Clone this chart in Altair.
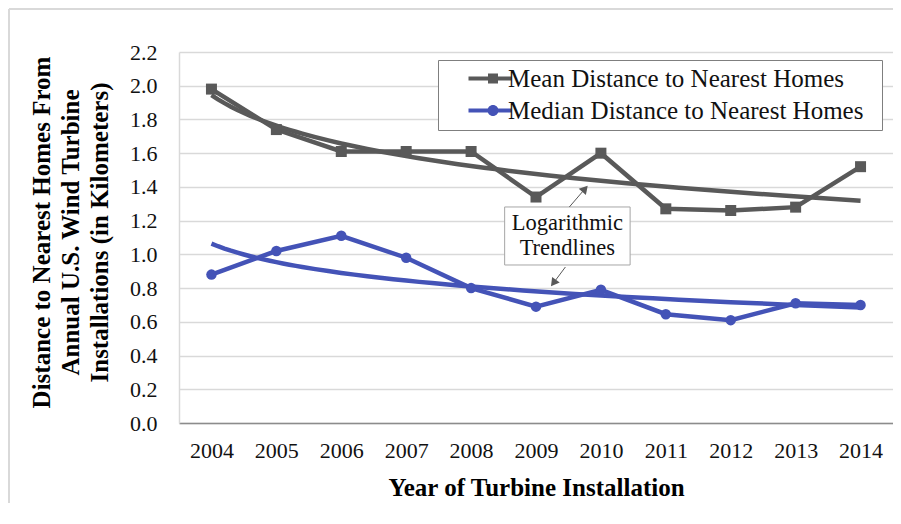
import altair as alt
import pandas as pd

years = [2004, 2005, 2006, 2007, 2008, 2009, 2010, 2011, 2012, 2013, 2014]
mean_km = [1.98, 1.74, 1.61, 1.61, 1.61, 1.34, 1.60, 1.27, 1.26, 1.28, 1.52]
median_km = [0.88, 1.02, 1.11, 0.98, 0.80, 0.69, 0.79, 0.645, 0.61, 0.71, 0.70]
series_names = ["Mean Distance to Nearest Homes", "Median Distance to Nearest Homes"]
y_ticks = [0.0, 0.2, 0.4, 0.6, 0.8, 1.0, 1.2, 1.4, 1.6, 1.8, 2.0, 2.2]
y_title = ["Distance to Nearest Homes From", "Annual U.S. Wind Turbine", "Installations (in Kilometers)"]
x_title = "Year of Turbine Installation"
note_lines = ["Logarithmic", "Trendlines"]

GRAY = "#595959"
BLUE = "#4453b7"
FONT = "Times New Roman, Liberation Serif, serif"

rows = []
for i, yr in enumerate(years):
    rows.append({"series": series_names[0], "idx": yr - 2003, "val": mean_km[i]})
    rows.append({"series": series_names[1], "idx": yr - 2003, "val": median_km[i]})
df = pd.DataFrame(rows)

W, H = 714, 371

xs = alt.Scale(domain=[0.5, 11.5], nice=False, zero=False)
ys = alt.Scale(domain=[0, 2.2], nice=False, zero=True)

x_axis = alt.Axis(values=list(range(1, 12)), labelExpr="'' + (datum.value + 2003)",
                  title=x_title, grid=False, ticks=False, labelPadding=17,
                  domainColor="#8c8c8c", domainWidth=1.5, titlePadding=14,
                  labelOverlap=False)
y_axis = alt.Axis(values=y_ticks, format=".1f", title=y_title, grid=True,
                  gridColor="#d9d9d9", gridWidth=1.5, ticks=False, labelPadding=22,
                  domainColor="#d9d9d9", domainWidth=1.5, titleLineHeight=29,
                  titlePadding=17, labelOverlap=False, tickCount=12, titleY=180)

base = alt.Chart(df)


def series_layers(name, color, point_mark):
    b = base.transform_filter(alt.datum.series == name)
    trend = b.transform_regression("idx", "val", method="log").mark_line(
        strokeWidth=4.5, color=color).encode(
        x=alt.X("idx:Q", scale=xs, axis=x_axis),
        y=alt.Y("val:Q", scale=ys, axis=y_axis))
    line = b.mark_line(strokeWidth=4.5, color=color).encode(
        x=alt.X("idx:Q", scale=xs, axis=x_axis), y=alt.Y("val:Q", scale=ys, axis=y_axis))
    pts = point_mark(b).encode(x=alt.X("idx:Q", scale=xs, axis=x_axis),
                               y=alt.Y("val:Q", scale=ys, axis=y_axis))
    return [trend, line, pts]


mean_layers = series_layers(series_names[0], GRAY,
                            lambda c: c.mark_square(size=121, opacity=1, color=GRAY))
median_layers = series_layers(series_names[1], BLUE,
                              lambda c: c.mark_circle(size=110, opacity=1, color=BLUE))

# annotation (box, text, arrows) placed in data space
box_df = pd.DataFrame({"x1": [5.517], "x2": [7.45], "y1": [0.937], "y2": [1.281]})
box = alt.Chart(box_df).mark_rect(fill="white", stroke="#a6a6a6", strokeWidth=1).encode(
    x=alt.X("x1:Q", scale=xs, axis=x_axis), x2="x2:Q",
    y=alt.Y("y1:Q", scale=ys, axis=y_axis), y2="y2:Q")
txt_df = pd.DataFrame({"x": [6.483, 6.483], "y": [1.186, 1.038], "t": note_lines})
txt = alt.Chart(txt_df).mark_text(font=FONT, fontSize=22.5, color="#111111",
                                  align="center", baseline="middle").encode(
    x=alt.X("x:Q", scale=xs, axis=x_axis), y=alt.Y("y:Q", scale=ys, axis=y_axis), text="t:N")
arr_df = pd.DataFrame({"x": [6.514, 6.453], "y": [1.281, 0.925],
                       "hx": [6.755, 6.269], "hy": [1.389, 0.830], "ang": [41, 217]})
arr_lines = alt.Chart(arr_df).mark_rule(color=GRAY, strokeWidth=1).encode(
    x=alt.X("x:Q", scale=xs, axis=x_axis), y=alt.Y("y:Q", scale=ys, axis=y_axis),
    x2="hx:Q", y2="hy:Q")
arr_heads = alt.Chart(arr_df).mark_point(shape="triangle-up", filled=True, color=GRAY,
                                         size=90, opacity=1).encode(
    x=alt.X("hx:Q", scale=xs, axis=x_axis), y=alt.Y("hy:Q", scale=ys, axis=y_axis),
    angle=alt.Angle("ang:Q", scale=None))

sq_path = "M2.4,-0.4H11V0.4H2.4Z M6.3,-1H8.3V1H6.3Z"
ci_path = "M2.4,-0.4H11V0.4H2.4Z M6.2,0A1.1,1.1,0,1,1,8.4,0A1.1,1.1,0,1,1,6.2,0Z"
leg = alt.Legend(title="M", titleOrient="right", titleOpacity=0, titleFontSize=13,
                 titlePadding=0, titleFont=FONT,
                 orient="none", legendX=259, legendY=8,
                 labelFont=FONT, labelFontSize=25, labelColor="#111111",
                 labelOffset=39, symbolSize=100, strokeColor="#7f7f7f",
                 padding=6, rowPadding=6, symbolStrokeWidth=0,
                 fillColor="white", labelLimit=600)
legend_df = pd.DataFrame({"series": series_names, "idx": [-10, -10], "val": [-10, -10]})
legend_layer = alt.Chart(legend_df).mark_point(filled=True, size=100, opacity=1).encode(
    x=alt.X("idx:Q", scale=xs, axis=x_axis), y=alt.Y("val:Q", scale=ys, axis=y_axis),
    color=alt.Color("series:N", scale=alt.Scale(domain=series_names, range=[GRAY, BLUE]), legend=leg),
    shape=alt.Shape("series:N", scale=alt.Scale(domain=series_names, range=[sq_path, ci_path]), legend=leg),
)

frame_src = alt.Chart(pd.DataFrame({"a": [0]}))
frame_left = frame_src.mark_rule(color="#d9d9d9", strokeWidth=2).encode(
    x=alt.value(-170), y=alt.value(-43), y2=alt.value(451))
frame_top = frame_src.mark_rule(color="#d9d9d9", strokeWidth=2).encode(
    y=alt.value(-43), x=alt.value(-170), x2=alt.value(714))

chart = alt.layer(frame_left, frame_top, *mean_layers, *median_layers, box, arr_lines,
                  arr_heads, txt, legend_layer).properties(
    width=W, height=H,
    autosize=alt.AutoSizeParams(type="none"),
    padding={"left": 171, "top": 44, "right": 0, "bottom": 80},
    background="transparent",
).configure_view(stroke=None, clip=False).configure_axis(
    labelFont=FONT, labelFontSize=22, labelColor="#111111", labelOverlap=False,
    titleFont=FONT, titleFontSize=25, titleFontWeight="bold", titleColor="#000000",
)

chart.save("out.html", embed_options={"renderer": "svg", "actions": False})
